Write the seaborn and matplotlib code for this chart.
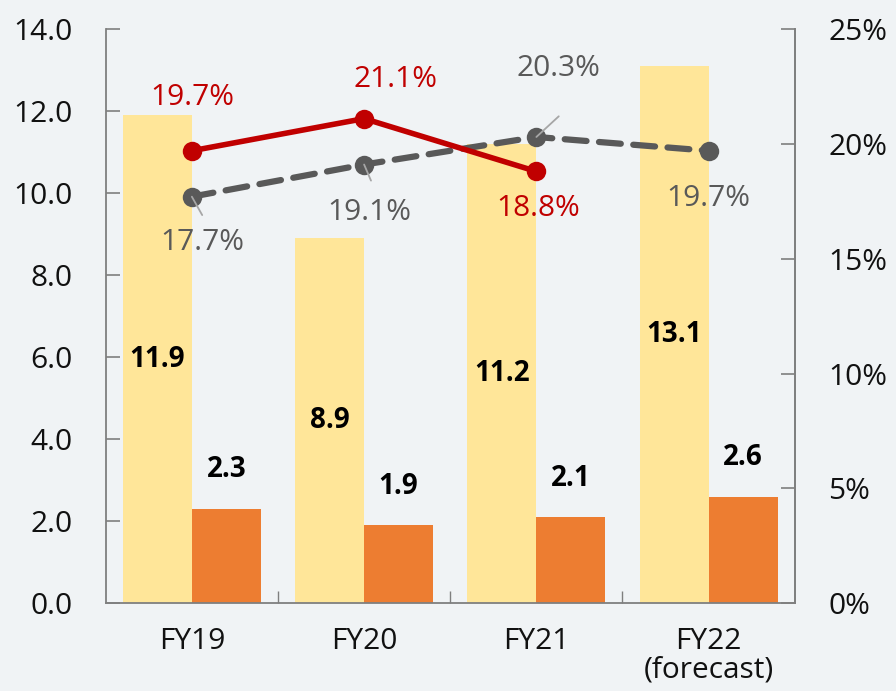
import matplotlib
matplotlib.use("Agg")
import matplotlib.pyplot as plt
from matplotlib.ticker import FixedLocator, FuncFormatter
import seaborn as sns
import pandas as pd

categories = ["FY19", "FY20", "FY21", "FY22\n(forecast)"]
series_a = [11.9, 8.9, 11.2, 13.1]   # light yellow bars
series_b = [2.3, 1.9, 2.1, 2.6]      # orange bars
ratio_red = [19.7, 21.1, 18.8]       # solid red line (%)
ratio_gray = [17.7, 19.1, 20.3, 19.7]  # dashed gray line (%)
left_ticks = [0, 2, 4, 6, 8, 10, 12, 14]
right_ticks = [0, 5, 10, 15, 20, 25]

BG = "#F0F3F5"
YEL = "#FFE699"
ORG = "#ED7D31"
RED = "#C00000"
GRAY = "#595959"
SPINE = "#7F7F7F"

sns.set_theme(style="white")
plt.rcParams["font.family"] = ["Open Sans", "DejaVu Sans"]

df = pd.DataFrame({
    "cat": categories * 2,
    "val": series_a + series_b,
    "series": ["a"] * 4 + ["b"] * 4,
})

fig = plt.figure(figsize=(8.96, 6.91), dpi=100, facecolor=BG)
ax = fig.add_axes([0.118, 0.127, 0.769, 0.831])
ax.set_facecolor(BG)
sns.barplot(data=df, x="cat", y="val", hue="series", palette=[YEL, ORG],
            width=0.8, saturation=1, ax=ax, legend=False, linewidth=0)
ax.set_xlim(-0.5, 3.5)
ax.set_ylim(0, 14)
ax.yaxis.set_major_locator(FixedLocator(left_ticks))
ax.yaxis.set_major_formatter(FuncFormatter(lambda v, p: f"{v:.1f}"))
ax.set_xlabel("")
ax.set_ylabel("")

for rect, v in zip(ax.containers[0], series_a):
    ax.text(rect.get_x() + rect.get_width() / 2, v / 2, f"{v:.1f}",
            ha="center", va="center", fontsize=20, fontweight="bold", color="black")
for rect, v in zip(ax.containers[1], series_b):
    ax.text(rect.get_x() + rect.get_width() / 2, v + 0.95, f"{v:.1f}",
            ha="center", va="center", fontsize=20, fontweight="bold", color="black")

ax.spines["top"].set_visible(False)
for s in ["left", "bottom", "right"]:
    ax.spines[s].set_color(SPINE)
    ax.spines[s].set_linewidth(1.3)

ax.tick_params(axis="y", direction="in", length=10, width=1.2, color=SPINE,
               labelsize=21.5, pad=24, left=True, labelcolor="#111111")
ax.tick_params(axis="x", which="major", length=0, labelsize=21.5, pad=17, labelcolor="#111111")
ax.set_xticks([0.5, 1.5, 2.5], minor=True)
ax.tick_params(axis="x", which="minor", direction="in", length=9, width=1.0, color=SPINE, bottom=True)
for lab in ax.get_xticklabels():
    lab.set_linespacing(1.0)

ax2 = ax.twinx()
ax2.set_ylim(0, 25)
ax2.yaxis.set_major_locator(FixedLocator(right_ticks))
ax2.yaxis.set_major_formatter(FuncFormatter(lambda v, p: f"{v:.0f}%"))
ax2.tick_params(axis="y", direction="in", length=10, width=1.2, color=SPINE,
                labelsize=21.5, pad=24, labelcolor="#111111")
for s in ["top", "left", "bottom"]:
    ax2.spines[s].set_visible(False)
ax2.spines["right"].set_color(SPINE)
ax2.spines["right"].set_linewidth(1.3)

xr = list(range(len(ratio_red)))
xg = list(range(len(ratio_gray)))
sns.lineplot(x=xg, y=ratio_gray, ax=ax2, color=GRAY, linewidth=4.5,
             marker="o", markersize=14, markeredgewidth=0,
             linestyle=(0, (3.5, 2.0)), dash_capstyle="round")
sns.lineplot(x=xr, y=ratio_red, ax=ax2, color=RED, linewidth=4,
             marker="o", markersize=14, markeredgewidth=0)

# red labels
red_off = [(0, 2.3), (0.18, 1.7), (0.01, -1.6)]
for i, (v, (dx, dy)) in enumerate(zip(ratio_red, red_off)):
    ax2.text(i + dx, v + dy, f"{v:.1f}%", ha="center", va="center",
             fontsize=21.5, color=RED, fontweight=500)
# gray labels
gray_off = [(0.06, -2.0), (0.03, -2.1), (0.13, 3.0), (0.0, -2.1)]
for i, (v, (dx, dy)) in enumerate(zip(ratio_gray, gray_off)):
    ax2.text(i + dx, v + dy, f"{v:.1f}%", ha="center", va="center",
             fontsize=21.5, color=GRAY, fontweight=500)
# leader lines
ax2.plot([0, 0.06], [17.7, 16.9], color="#A6A6A6", linewidth=1.3)
ax2.plot([1, 1.04], [19.1, 18.4], color="#A6A6A6", linewidth=1.3)
ax2.plot([2, 2.13], [20.3, 21.2], color="#A6A6A6", linewidth=1.3)

fig.savefig("out.png", dpi=100, facecolor=BG)
